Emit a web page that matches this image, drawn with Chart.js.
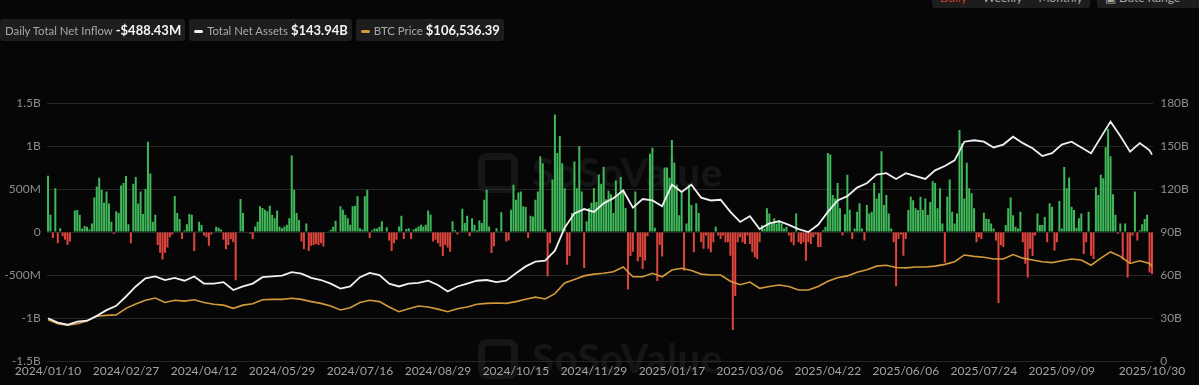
<!DOCTYPE html>
<html>
<head>
<meta charset="utf-8">
<title>Spot BTC ETF flows</title>
<script src="https://cdn.jsdelivr.net/npm/chart.js@4.4.1/dist/chart.umd.min.js"></script>
<style>
  html, body { margin: 0; padding: 0; background: #060606; width: 1199px; height: 385px; overflow: hidden; font-family: Lato, "Noto Sans", sans-serif; }
  #wrap { position: relative; width: 1199px; height: 385px; }
  #chart { position: absolute; left: 0; top: 0; }
  .legend { position: absolute; left: 0; top: 19px; display: flex; gap: 4px; }
  .item { height: 22px; line-height: 22px; background: #1d1d1d; border-radius: 3px; padding: 0 4px 0 5px; color: #a9a9a9; font-size: 11.4px; white-space: nowrap; }
  .item b { color: #f4f4f4; font-size: 13px; font-weight: 700; margin-left: 3px; }
  .dash { display: inline-block; width: 9px; height: 3px; border-radius: 2px; vertical-align: middle; margin-right: 4px; margin-top: -2px; }
  .topbox { position: absolute; top: -12px; height: 20px; line-height: 20px; background: #1d1d1d; border-radius: 3px; color: #a9a9a9; font-size: 12px; white-space: nowrap; }
  .topbox span { margin: 0 8px; }
  .wm { position: absolute; color: rgba(255,255,255,0.065); font-weight: 900; font-size: 40px; letter-spacing: 0.5px; white-space: nowrap; }
  .wm i { display: inline-block; width: 40px; height: 40px; border: 7px solid rgba(255,255,255,0.065); border-radius: 9px; box-sizing: border-box; vertical-align: middle; margin-right: 14px; margin-top: -8px; }
</style>
</head>
<body>
<div id="wrap">
  <div class="wm" style="left:478px; top:148px;"><i></i>SoSoValue</div>
  <div class="wm" style="left:478px; top:334px;"><i></i>SoSoValue</div>
  <canvas id="chart" width="1199" height="385"></canvas>
  <div class="legend">
    <div class="item">Daily Total Net Inflow<b>-$488.43M</b></div>
    <div class="item"><span class="dash" style="background:#f2f2f2"></span>Total Net Assets<b>$143.94B</b></div>
    <div class="item"><span class="dash" style="background:#d59a3a"></span>BTC Price<b>$106,536.39</b></div>
  </div>
  <div class="topbox" style="left:932px; width:158px;"><span style="color:#c43a30">Daily</span><span>Weekly</span><span>Monthly</span></div>
  <div class="topbox" style="left:1097px; width:110px;"><span>&#9635; Date Range</span></div>
</div>
<script>
// trading days shown on the x axis
const startDate = '2024-01-10';
const endDate = '2025-10-30';
const holidays = ['2024-01-15', '2024-02-19', '2024-03-29', '2024-05-27', '2024-06-19', '2024-07-04',
  '2024-09-02', '2024-11-28', '2024-12-25', '2025-01-01', '2025-01-09', '2025-01-20', '2025-02-17',
  '2025-04-18', '2025-05-26', '2025-06-19', '2025-07-04', '2025-09-01'];

const tickLabels = ['2024/01/10', '2024/02/27', '2024/04/12', '2024/05/29', '2024/07/16', '2024/08/29',
  '2024/10/15', '2024/11/29', '2025/01/17', '2025/03/06', '2025/04/22', '2025/06/06', '2025/07/24',
  '2025/09/09', '2025/10/30'];

// daily total net inflow, $M, one per trading day
const netInflow = [
  655, 200, -70, 510, -130, 45, -50, -90, -150, -110,
  5, 250, 255, 200, 40, 70, 60, 30, 100, 400,
  530, 630, 490, 340, 470, 330, 120, -20, 240, 220,
  540, 570, 650, 90, -130, 560, 640, 330, 470, 210,
  500, 1050, 680, 120, 200, -150, -240, -320, -240, -180,
  -60, -30, 420, 220, 150, -80, 20, 90, 210, 200,
  -220, 10, 120, 80, -40, -60, -160, -30, 0, 60,
  50, 30, -90, -200, -150, -80, -120, -560, 5, 385,
  220, 0, 0, -20, -80, 65, 120, 300, 280, 260,
  240, 305, 200, 160, 250, 65, 45, 65, 85, 160,
  890, 490, 220, 140, -110, -200, 100, -220, -160, -150,
  -140, -150, -130, -170, 0, 10, 25, 60, 130, 0,
  300, 260, 200, 160, 85, 300, 305, 415, 45, 30,
  415, 490, -70, 20, 40, 40, 60, 125, 0, 55,
  -100, -220, -130, -90, 65, 190, -80, 35, 45, -80,
  30, 45, 65, 85, 65, 85, 250, 200, -110, -90,
  -130, -170, -280, -150, -180, -230, 125, 20, -30, 10,
  270, 105, 190, -50, 160, 85, 20, 135, 105, 375,
  490, 65, -245, -165, 45, 10, 230, 0, -110, -100,
  260, 550, 375, 460, 470, 300, 290, -70, 190, 180,
  375, 470, 880, 800, 30, -515, -130, 610, 1365, 920,
  1115, 800, 510, -380, -280, 220, 820, 510, 1000, 470,
  -420, 125, 280, 340, 510, 350, 670, 560, 760, 380,
  480, 440, 220, 600, 430, 640, 490, 280, -670, -280,
  -230, 470, -340, -290, -430, -330, -50, 910, 980, 50,
  -570, -150, -285, 750, 750, 630, 1070, 805, 550, 195,
  470, -450, 100, 550, 315, -235, 335, 220, -120, -195,
  -40, -195, -235, -120, 60, -40, -80, -40, -120, -120,
  -275, -1140, -745, -120, -60, -120, -140, -40, -140, -235,
  -295, -315, -120, 80, 40, 275, 215, 100, 160, 100,
  140, 100, 40, 60, -40, -120, -155, 215, -120, -140,
  -120, -335, -120, -140, -60, -30, -175, -175, 20, 60,
  920, 900, 430, 390, 570, 275, -40, 205, 665, 260,
  -80, 40, 235, 335, 40, -100, 315, 215, 235, 570,
  390, 450, 940, 315, 430, 215, 40, -120, -630, -80,
  -30, -275, -80, 255, 410, 370, 275, 255,
  410, 255, 390, 200, 350, 590, 570, 275, 510, 100, -355, 410,
  610, 235, 100, 215, 1185, 1030, 390, 805, 510, 450,
  275, -120, -60, -80, 225, 155, 150, 100, 40, -100,
  -825, -155, -175, 80, 275, 400, 195, 60, 40, 235,
  -120, -370, -530, -195, -280, -40, 215, 80, 80, 175,
  -120, 335, 295, -215, -120, 360, 40, 755, 510, 635,
  295, 255, 50, 160, 215, -255, -120, 235, -275, -315,
  520, 430, 665, 625, 985, 1200, 880, 440, 200, -20,
  100, -320, 100, -530, -355, -40, 470, -100, 20, 90,
  150, 200, -470, -488
];

// line readings taken every 4th trading day, plus the last day
const lineStep = 4;
// total net assets, $B
const netAssets = [
  29.8, 26.8, 25.3, 27.4, 28.1, 31.5, 35.5, 38.5, 45, 52,
  57.7, 59, 56.5, 58, 56, 59, 54, 54, 55, 49.5,
  52, 54, 58.5, 59, 59.5, 62, 61, 58, 56.5, 54,
  50.5, 52, 58.5, 61.5, 60, 54, 52, 54, 54.5, 56,
  53, 48.5, 52, 54, 56, 56.5, 55, 56, 61.2, 66,
  69.3, 70, 77, 93, 103, 106, 104, 110, 113.5, 119,
  107, 113, 112, 108, 123, 118, 123, 114, 112, 112.5,
  104, 97, 101, 92, 96, 97.5, 95, 92, 90, 95,
  104, 112, 115, 121, 124, 130, 131, 127, 131, 129,
  127, 133, 136, 140, 153, 154, 153, 149, 151, 156.5,
  152, 148.4, 143, 145, 151, 153, 149, 145, 156, 167,
  157, 146, 152, 147, 143.94
];
// BTC price, $K
const btcPrice = [
  46.5, 42, 40.5, 42, 45, 50.5, 51.5, 52, 59.4, 64.3,
  68.5, 71, 66, 68.5, 67.5, 69, 66, 64, 63, 59.4,
  63, 64.5, 69, 69.5, 69.5, 70.7, 69.5, 67, 65, 62,
  57.5, 60, 66, 68.5, 67, 61, 55.6, 59, 62, 61,
  58.5, 55.6, 59, 61, 64, 65, 65.5, 65, 67, 69.6,
  72, 70, 76, 88, 92, 96, 98, 98.9, 100.7, 106,
  95, 95, 99, 95, 102.6, 104.6, 102, 98, 97, 97,
  90, 86, 89, 82, 84, 85.7, 84, 80, 80, 84,
  90, 94, 96, 100, 103, 107, 108, 105.5, 105, 106,
  106, 107, 109, 112, 119.6, 118, 117, 115, 115, 120,
  116, 114, 112, 111, 113, 115, 114, 108, 116, 123,
  118, 110, 113, 110, 106.5
];

function tradingDays() {
  const out = [];
  const d = new Date(startDate + 'T00:00:00Z');
  const end = new Date(endDate + 'T00:00:00Z');
  while (d <= end) {
    const wd = d.getUTCDay();
    const iso = d.toISOString().slice(0, 10);
    if (wd !== 0 && wd !== 6 && !holidays.includes(iso)) out.push(iso.replace(/-/g, '/'));
    d.setUTCDate(d.getUTCDate() + 1);
  }
  return out;
}

const labels = tradingDays();

// put the sampled readings on their days, gaps are bridged by the line
function onDays(samples) {
  return labels.map((d, i) => {
    if (i === labels.length - 1) return samples[samples.length - 1];
    return i % lineStep === 0 ? samples[i / lineStep] : null;
  });
}

const tickFont = { family: 'Lato', size: 12 };

new Chart(document.getElementById('chart').getContext('2d'), {
  type: 'bar',
  data: {
    labels,
    datasets: [
      {
        label: 'Total Net Assets',
        type: 'line',
        data: onDays(netAssets),
        yAxisID: 'y1',
        borderColor: '#f0f0f0',
        borderWidth: 1.8,
        pointRadius: 0,
        spanGaps: true,
        order: 1
      },
      {
        label: 'BTC Price',
        type: 'line',
        data: onDays(btcPrice),
        yAxisID: 'y2',
        borderColor: '#d39a3b',
        borderWidth: 1.6,
        pointRadius: 0,
        spanGaps: true,
        order: 2
      },
      {
        label: 'Daily Total Net Inflow',
        data: netInflow,
        yAxisID: 'y',
        backgroundColor: netInflow.map(v => v >= 0 ? '#3fb95a' : '#e0463d'),
        barPercentage: 0.82,
        categoryPercentage: 1,
        order: 3
      }
    ]
  },
  options: {
    responsive: false,
    animation: false,
    layout: { padding: { top: 103, left: 0, right: 0, bottom: 0 } },
    plugins: {
      legend: { display: false },
      tooltip: { enabled: false }
    },
    scales: {
      x: {
        offset: true,
        grid: { display: false, drawTicks: false },
        border: { display: false },
        ticks: {
          autoSkip: false,
          maxRotation: 0,
          minRotation: 0,
          padding: 3,
          color: '#a3a3a3',
          font: tickFont,
          callback: function (value) {
            const l = this.getLabelForValue(value);
            return tickLabels.includes(l) ? l : null;
          }
        },
        afterFit: s => { s.height = 24; }
      },
      y: {
        position: 'left',
        min: -1500,
        max: 1500,
        grid: { color: '#262626', drawTicks: false },
        border: { display: false },
        ticks: {
          stepSize: 500,
          padding: 6,
          color: '#8c8c8c',
          font: tickFont,
          callback: v => v === 0 ? '0' : (Math.abs(v) >= 1000 ? (v / 1000) + 'B' : v + 'M')
        },
        afterFit: s => { s.width = 46.8; }
      },
      y1: {
        position: 'right',
        min: 0,
        max: 180,
        grid: { display: false, drawTicks: false },
        border: { display: false },
        ticks: {
          stepSize: 30,
          padding: 7,
          color: '#8c8c8c',
          font: tickFont,
          callback: v => v === 0 ? '0' : v + 'B'
        },
        afterFit: s => { s.width = 45.8; }
      },
      y2: {
        display: false,
        min: 0,
        max: 291
      }
    }
  }
});
</script>
</body>
</html>
